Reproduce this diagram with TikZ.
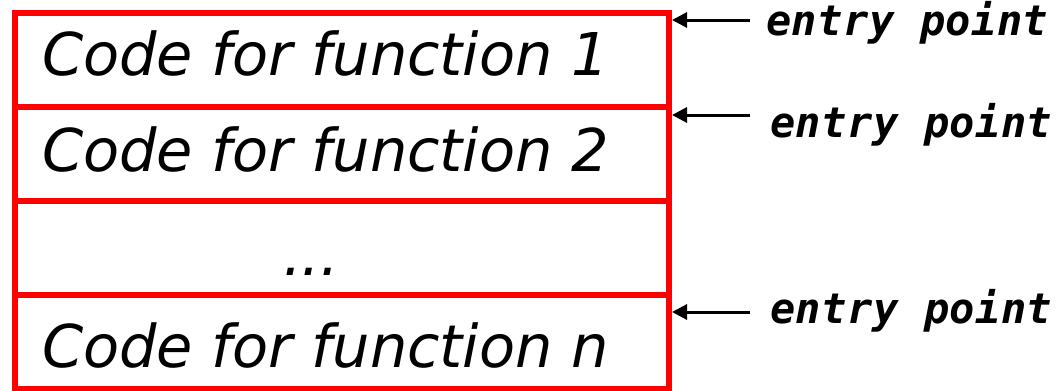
\documentclass[tikz,border=0pt]{standalone}
\usepackage{fontspec}
\setmainfont{DejaVu Sans}
\newfontfamily\entryfont[LetterSpace=1]{DejaVu Sans Mono}
\usetikzlibrary{arrows.meta,positioning}
\tikzset{
	slot/.style={draw=red, line width=6pt, minimum width=654pt, minimum height=94pt,
			inner sep=0pt, outer sep=0pt},
	code/.style={anchor=base west, inner sep=0pt,
			font=\fontsize{59}{61}\selectfont\itshape},
	entry/.style={anchor=base west, inner sep=0pt,
			font=\fontsize{42}{44}\selectfont\entryfont\bfseries\itshape},
	ptr/.style={-{Triangle[length=15pt,width=15pt]}, line width=3pt, black}
}

\begin{document}
\begin{tikzpicture}[x=1pt, y=-1pt]
		\useasboundingbox (0,0) rectangle (1058,391);

		% the code area, one slot per function
		\node [slot] (f1) at (342,60) {};
		\node [slot, below=0pt of f1] (f2) {};
		\node [slot, below=0pt of f2] (f3) {};
		\node [slot, below=0pt of f3] (f4) {};

		\node [code] (c1) at (42,75) {Code for function 1};
		\node [code] (c2) at (42,171) {Code for function 2};
		\node [code] (c3) at (283,275) {...};
		\node [code] (c4) at (42,367) {Code for function n};

		% entry points
		\coordinate (a1) at (672,20);
		\coordinate (s1) at (750,20);
		\coordinate (a2) at (672,115);
		\coordinate (s2) at (750,115);
		\coordinate (a3) at (672,312);
		\coordinate (s3) at (750,312);

		\node [entry] (e1) at (766,35) {entry point};
		\node [entry] (e2) at (770,137) {entry point};
		\node [entry] (e3) at (770,323) {entry point};

		\draw [ptr]	(s1) -- (a1);
		\draw [ptr]	(s2) -- (a2);
		\draw [ptr]	(s3) -- (a3);
	\end{tikzpicture}
\end{document}
